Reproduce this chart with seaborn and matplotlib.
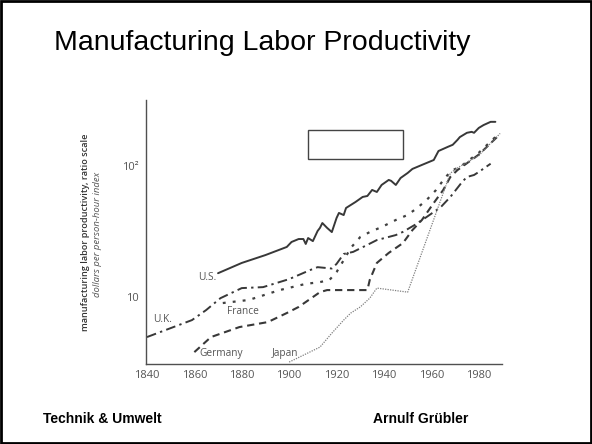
import numpy as np
import pandas as pd
import matplotlib
matplotlib.use("Agg")
import matplotlib.pyplot as plt
import matplotlib.ticker as mticker
from matplotlib.patches import Rectangle
import seaborn as sns

# values (ratio scale)
us_years = [1870, 1880, 1890, 1899, 1901, 1904, 1906, 1907, 1908, 1910, 1912, 1913, 1914, 1916,
            1918, 1920, 1921, 1923, 1924, 1928, 1931, 1933, 1935, 1937, 1939, 1942, 1943, 1945,
            1947, 1950, 1952, 1956, 1961, 1963, 1967, 1969, 1971, 1972, 1975, 1977, 1978, 1980,
            1982, 1985, 1987]
us_vals = [15.2, 18.2, 20.9, 24.1, 26.3, 27.7, 27.7, 25.4, 28.2, 26.7, 31.9, 33.7, 36.7, 33.7,
           31.3, 40.1, 43.8, 42.2, 47.8, 53.1, 58, 59, 65.6, 63.3, 71.6, 78.2, 77, 71.6,
           80.9, 88.4, 94.9, 101.8, 111, 130, 140, 145, 158, 166, 179, 182, 179, 195,
           205, 217, 217]

uk_years = [1840, 1859, 1865, 1871, 1880, 1889, 1900, 1909, 1912, 1918, 1920, 1923, 1927, 1933,
            1937, 1945, 1948, 1953, 1958, 1964, 1968, 1973, 1975, 1978, 1980, 1985]
uk_vals = [4.95, 6.67, 7.96, 9.8, 11.7, 11.9, 13.7, 16.1, 16.9, 16.5, 17.9, 21.3, 22.1, 25,
           27.2, 29.7, 31.4, 35.5, 40.8, 48.6, 58, 75.6, 82.4, 85.3, 90, 104]

fr_years = [1872, 1883, 1896, 1907, 1913, 1917, 1920, 1923, 1926, 1930, 1934, 1939, 1945, 1950,
            1954, 1958, 1962, 1966, 1969, 1972, 1980, 1989]
fr_vals = [9.0, 9.5, 11.3, 12.6, 13.0, 13.5, 15.5, 19.1, 23.7, 28.7, 31.3, 34.2, 38.7, 42.3,
           47.8, 55, 65.6, 82.4, 93, 98, 126, 180]

de_years = [1860, 1867, 1879, 1891, 1899, 1904, 1913, 1916, 1933, 1934, 1937, 1942, 1948, 1952,
            1956, 1961, 1965, 1968, 1971, 1980, 1989]
de_vals = [3.8, 4.95, 5.9, 6.44, 7.55, 8.4, 10.9, 11.3, 11.3, 13.5, 18.2, 21.7, 25.8, 32.4,
           38.7, 52.2, 65.6, 82.4, 93, 122, 175]

jp_years = [1900, 1913, 1918, 1923, 1926, 1930, 1934, 1937, 1950, 1968, 1971, 1980, 1989]
jp_vals = [3.19, 4.15, 5.3, 6.67, 7.55, 8.4, 9.8, 11.7, 10.9, 88, 96.6, 120, 177]

countries = ["U.S.", "U.K.", "France", "Germany", "Japan"]

sns.set_style("white")
plt.rcParams["font.family"] = ["Open Sans", "DejaVu Sans"]

fig = plt.figure(figsize=(5.92, 4.44), dpi=100)
ax = fig.add_axes([0.2466, 0.180, 0.601, 0.595])

series = {
    "U.S.": (us_years, us_vals),
    "U.K.": (uk_years, uk_vals),
    "France": (fr_years, fr_vals),
    "Germany": (de_years, de_vals),
    "Japan": (jp_years, jp_vals),
}
styles = {
    "U.S.": dict(color="#383838", lw=1.4, ls="-"),
    "U.K.": dict(color="#383838", lw=1.4, ls=(0, (5, 2.2, 1.2, 2.2))),
    "France": dict(color="#404040", lw=1.6, ls=(0, (1.3, 3.2))),
    "Germany": dict(color="#383838", lw=1.5, ls=(0, (3.5, 2.3))),
    "Japan": dict(color="#808080", lw=0.9, ls=(0, (1, 1))),
}

for name in countries:
    yrs, vals = series[name]
    df = pd.DataFrame({"year": yrs, "value": vals})
    st = styles[name]
    sns.lineplot(data=df, x="year", y="value", ax=ax, color=st["color"],
                 linewidth=st["lw"], linestyle=st["ls"], estimator=None, sort=False)

ax.set_yscale("log")
ax.set_xlim(1839.6, 1989.7)
ax.set_ylim(3.08, 319)
ax.set_xlabel("")
ax.set_ylabel("")

ax.xaxis.set_major_locator(mticker.FixedLocator(list(range(1840, 1981, 20))))
ax.yaxis.set_major_locator(mticker.FixedLocator([10, 100]))
ax.yaxis.set_major_formatter(mticker.FixedFormatter(["10", "10²"]))
ax.yaxis.set_minor_locator(mticker.LogLocator(base=10, subs=np.arange(2, 10)))
ax.yaxis.set_minor_formatter(mticker.NullFormatter())

for s in ["top", "right"]:
    ax.spines[s].set_visible(False)
for s in ["left", "bottom"]:
    ax.spines[s].set_color("#505050")
    ax.spines[s].set_linewidth(1.0)

ax.tick_params(axis="both", which="major", direction="in", length=4, width=0.9,
               color="#505050", labelcolor="#555555", labelsize=8, pad=4)
ax.tick_params(axis="y", which="minor", direction="in", length=3, width=0.8, color="#505050")
ax.tick_params(axis="y", which="major", pad=5)

# series labels
lab = dict(color="#555555", fontsize=7.3, ha="center", va="center")
ax.text(1865.3, 14.2, "U.S.", **lab)
ax.text(1846.7, 6.7, "U.K.", **lab)
ax.text(1880.5, 7.7, "France", **lab)
ax.text(1871.5, 3.72, "Germany", **lab)
ax.text(1898.2, 3.72, "Japan", **lab)

# axis title in two lines, as in the scanned figure
fig.text(0.1436, 0.476, "manufacturing labor productivity, ratio scale", rotation=90,
         ha="center", va="center", fontsize=6.6, weight="semibold", color="#333333")
fig.text(0.1655, 0.471, "dollars per person-hour index", rotation=90, style="italic",
         ha="center", va="center", fontsize=6.8, color="#555555")

# empty box on the slide
fig.patches.append(Rectangle((0.520, 0.642), 0.160, 0.065, transform=fig.transFigure,
                             facecolor="white", edgecolor="#444444", lw=1.0))

# slide title and footer
fig.text(0.4434, 0.903, "Manufacturing Labor Productivity", ha="center", va="center",
         fontsize=20.5, family="Liberation Sans", color="black")
fig.text(0.072, 0.056, "Technik & Umwelt", ha="left", va="center", fontsize=10,
         family="Liberation Sans", weight="bold", color="black")
fig.text(0.791, 0.056, "Arnulf Grübler", ha="right", va="center", fontsize=10,
         family="Liberation Sans", weight="bold", color="black")

# slide frame
fig.patches.append(Rectangle((0.002, 0.003), 0.996, 0.994, transform=fig.transFigure,
                             facecolor="none", edgecolor="black", lw=2.0))

fig.savefig("out.png", dpi=100)
